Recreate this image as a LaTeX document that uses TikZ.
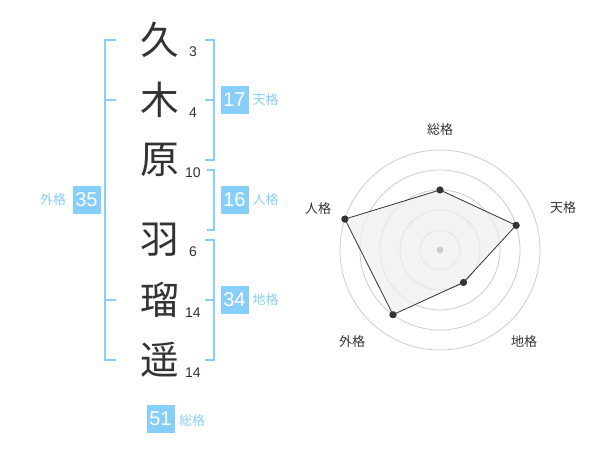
\documentclass[tikz,border=0pt]{standalone}
\usepackage{fontspec}
\setmainfont{Liberation Sans}
\newfontfamily\jp{Noto Sans CJK JP}
\definecolor{sky}{HTML}{87CEFA}
\definecolor{ink}{HTML}{333333}
\definecolor{ring}{HTML}{CCCCCC}
\definecolor{area}{HTML}{EEEEEE}
\begin{document}
\begin{tikzpicture}[x=0.75pt,y=-0.75pt,
  kanji/.style={font=\jp\fontsize{29}{29}\selectfont, text=ink, inner sep=0},
  strokes/.style={font=\fontsize{10.5}{11}\selectfont, text=ink, inner sep=0},
  scorebox/.style={fill=sky, text=white, minimum width=21pt, minimum height=21pt, inner sep=0, font=\fontsize{15}{15}\selectfont},
  kaku/.style={text=sky, font=\jp\fontsize{9.75}{10}\selectfont, inner sep=0},
  bracket/.style={draw=sky, line width=1.5pt},
  ringline/.style={draw=ring, line width=0.6pt},
  dot/.style={circle, fill=ink, inner sep=0, minimum size=5.25pt},
  axislabel/.style={font=\jp\fontsize{9.75}{10}\selectfont, text=ink, inner sep=0},
  edge/.style={draw=ink, line width=0.6pt}
]
\useasboundingbox (0,0) rectangle (600,470);
% names
\node[kanji] (k1) at (160,40) {久};
\node[kanji] (k2) at (160,100) {木};
\node[kanji] (k3) at (160,160) {原};
\node[kanji] (k4) at (160,240) {羽};
\node[kanji] (k5) at (160,300) {瑠};
\node[kanji] (k6) at (160,360) {遥};
\node[strokes] (s1) at (193,52) {3};
\node[strokes] (s2) at (193,112.5) {4};
\node[strokes] (s3) at (193,172.5) {10};
\node[strokes] (s4) at (193,252) {6};
\node[strokes] (s5) at (193,312.5) {14};
\node[strokes] (s6) at (193,372.5) {14};
% brackets
\draw[bracket] (116,40) -- (105,40) -- (105,360) -- (116,360);
\draw[bracket] (105,100) -- (116,100);
\draw[bracket] (105,300) -- (116,300);
\draw[bracket] (205,40) -- (214,40) -- (214,160) -- (205,160);
\draw[bracket] (214,100) -- (205,100);
\draw[bracket] (207,170) -- (214,170) -- (214,230) -- (207,230);
\draw[bracket] (205,240) -- (214,240) -- (214,360) -- (205,360);
\draw[bracket] (214,300) -- (205,300);
% score boxes
\node[scorebox] (b35) at (86.5,200) {35};
\node[kaku] (l35) at (53,200) {外格};
\node[scorebox] (b17) at (234.5,100) {17};
\node[kaku] (l17) at (265.5,100) {天格};
\node[scorebox] (b16) at (234.5,200) {16};
\node[kaku] (l16) at (265.5,200) {人格};
\node[scorebox] (b34) at (234.5,300) {34};
\node[kaku] (l34) at (265.5,300) {地格};
\node[scorebox] (b51) at (160.5,419) {51};
\node[kaku] (l51) at (192,421) {総格};
% radar
\coordinate (c) at (440,250);
\foreach \r in {20,40,60,80,100} \draw[ringline] (c) circle[radius=\r];
\node[dot] (pA) at (440,190) {};
\node[dot] (pB) at (516.1,225.3) {};
\node[dot] (pC) at (463.5,282.4) {};
\node[dot] (pD) at (393.0,314.7) {};
\node[dot] (pE) at (344.9,219.1) {};
\fill[area, fill opacity=0.7] (pA.center) -- (pB.center) -- (pC.center) -- (pD.center) -- (pE.center) -- cycle;
\node[circle, fill=ring, inner sep=0, minimum size=5.25pt] (cd) at (c) {};
\draw[edge] (pA.center) -- (pB.center) -- (pC.center) -- (pD.center) -- (pE.center) -- cycle;
\foreach \x/\y in {440/190, 516.1/225.3, 463.5/282.4, 393.0/314.7, 344.9/219.1}
  \node[dot] at (\x,\y) {};
\node[axislabel] (aA) at (440,130) {総格};
\node[axislabel] (aB) at (563,208) {天格};
\node[axislabel] (aC) at (524,342) {地格};
\node[axislabel] (aD) at (352,342) {外格};
\node[axislabel] (aE) at (318,209) {人格};
\end{tikzpicture}
\end{document}
